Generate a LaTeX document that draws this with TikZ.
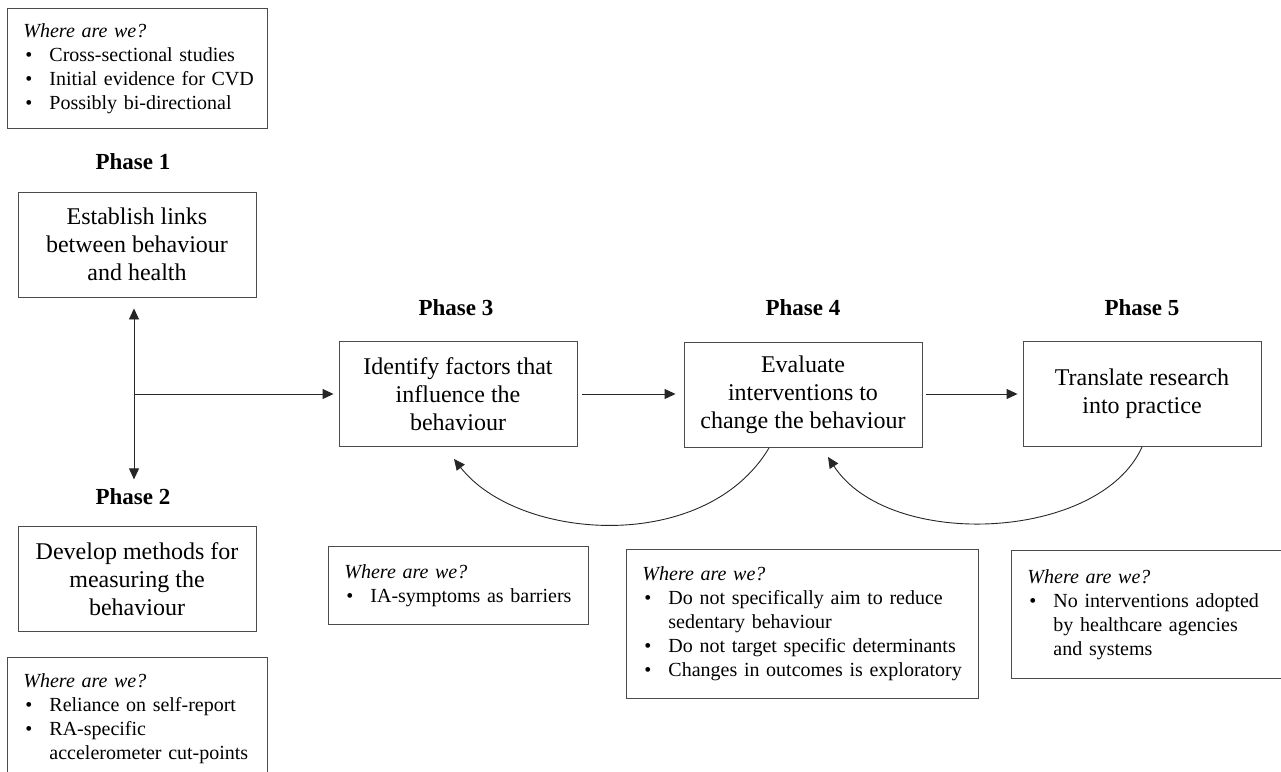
\documentclass[tikz,border=0pt]{standalone}
\usepackage{fontspec}
\setmainfont{Liberation Serif}
\usetikzlibrary{arrows.meta,positioning}
\newlength\bulw
\setlength\bulw{26pt}
\newcommand\wbul[1]{\mbox{\makebox[\bulw][l]{\hspace{2pt}\textbullet}#1}}
\newcommand\wind[1]{\mbox{\hspace*{\bulw}#1}}

\begin{document}
\begin{tikzpicture}[x=1pt,y=-1pt,>={Triangle[length=11pt,width=10pt]}]
\tikzset{
  box/.style={draw=black!70,line width=0.9pt,align=center,inner sep=0pt,minimum width=238pt,minimum height=105pt,font=\fontsize{24}{28}\selectfont},
  wbox/.style={draw=black!70,line width=0.9pt,anchor=north west,align=left,inner xsep=16pt,inner ysep=0pt,font=\fontsize{20}{24}\selectfont},
  lbl/.style={font=\fontsize{23}{27}\selectfont\bfseries},
  con/.style={draw=black!85,line width=0.9pt}
}
\useasboundingbox (0,0) rectangle (1281,771);

\node[box] (ph1) at (137,244.5) {Establish links\\between behaviour\\and health};
\node[box] (ph2) at (137,579) {Develop methods for\\measuring the\\behaviour};
\node[box] (ph3) at (458,394) {Identify factors that\\influence the\\behaviour};
\node[box] (ph4) at (803,395) {Evaluate\\interventions to\\change the behaviour};
\node[box] (ph5) at (1142,394) {Translate research\\into practice};

\node[lbl] (l1) at (133,162) {Phase 1};
\node[lbl] (l2) at (133,497) {Phase 2};
\node[lbl] (l3) at (456,308) {Phase 3};
\node[lbl] (l4) at (803,308) {Phase 4};
\node[lbl] (l5) at (1142,308) {Phase 5};

\node[wbox,text width=228pt,minimum height=120pt] (w1) at (7,8) {\textit{Where are we?}\\
\wbul{Cross-sectional studies}\\
\wbul{Initial evidence for CVD}\\
\wbul{Possibly bi-directional}};
\node[wbox,text width=228pt,inner ysep=16pt] (w2) at (7,657) {\textit{Where are we?}\\
\wbul{Reliance on self-report}\\
\wbul{RA-specific}\\
\wind{accelerometer cut-points}\rule[-40pt]{0pt}{0pt}};
\node[wbox,text width=228pt,minimum height=78pt] (w3) at (328,546) {\textit{Where are we?}\\
\wbul{IA-symptoms as barriers}};
\node[wbox,text width=320pt,minimum height=149pt] (w4) at (626,549) {\textit{Where are we?}\\
\wbul{Do not specifically aim to reduce}\\
\wind{sedentary behaviour}\\
\wbul{Do not target specific determinants}\\
\wbul{Changes in outcomes is exploratory}};
\node[wbox,text width=243pt,minimum height=128pt] (w5) at (1011,550) {\textit{Where are we?}\\
\wbul{No interventions adopted}\\
\wind{by healthcare agencies}\\
\wind{and systems}};

\coordinate (jn) at (134,394);
\draw[con,<->] ([yshift=-11pt]ph1.south -| jn) -- ([yshift=6pt]l2.north -| jn);
\draw[con,->,shorten >=5pt] (jn) -- (jn -| ph3.west);
\draw[con,->,shorten <=5pt,shorten >=8pt] (ph3.east) -- (ph3.east -| ph4.west);
\draw[con,->,shorten <=4pt,shorten >=5pt] (ph4.east |- ph5.west) -- (ph5.west);
\draw[con,->] ([xshift=-34pt]ph4.south) .. controls (705,555) and (518,541) .. ([xshift=-4pt,yshift=-12pt]ph3.south);
\draw[con,->] (ph5.south) .. controls (1100,541) and (889,551) .. ([xshift=25pt,yshift=-9pt]ph4.south);
\end{tikzpicture}
\end{document}
